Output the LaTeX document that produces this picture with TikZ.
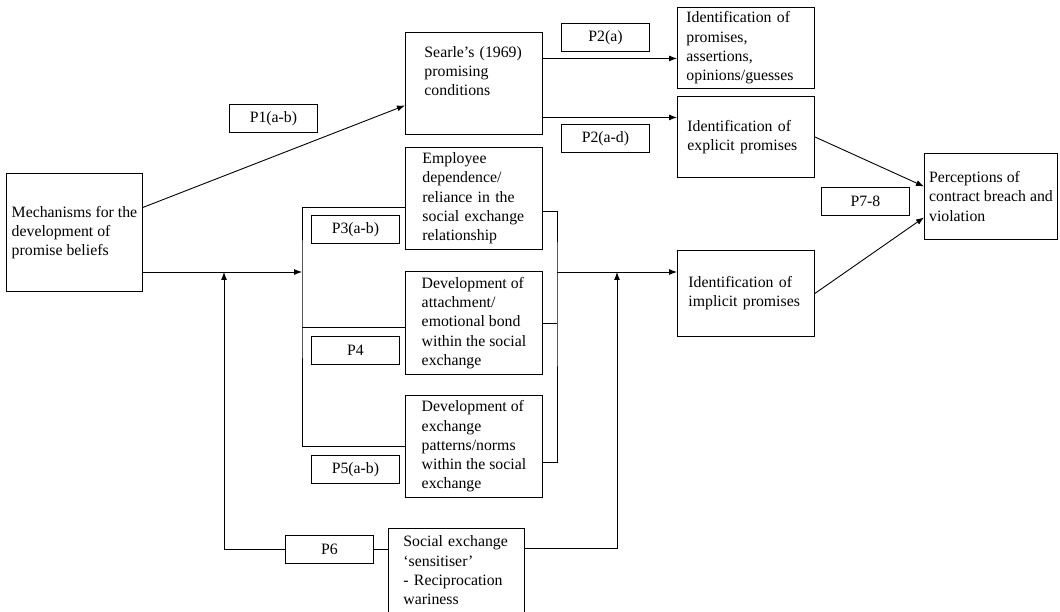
\documentclass[tikz,border=0pt]{standalone}
\usepackage{fontspec}
\setmainfont{Liberation Serif}
\usetikzlibrary{arrows.meta, calc}

\begin{document}
\begin{tikzpicture}[x=1pt, y=-1pt, line width=0.9pt,
    font=\fontsize{15.8pt}{19.3pt}\selectfont,
    pbox/.style={draw, anchor=north west, align=left, inner xsep=0pt, inner ysep=0pt},
    plabel/.style={draw, anchor=north west, minimum width=88pt, minimum height=28pt, inner sep=0pt},
    link/.style={arrows=-{Latex[length=8pt, width=6pt]}}]

  \useasboundingbox (0,0) rectangle (1060,612);

  % main boxes
  \node [pbox, minimum width=136pt, minimum height=118pt] (mech) at (6,173) {Mechanisms for the\\development of\\promise beliefs};
  \node [pbox, minimum width=137pt, minimum height=102pt, text width=99pt] (searle) at (405,32) {Searle’s (1969)\\promising\\conditions\\\strut};
  \node [pbox, minimum width=137pt, minimum height=102pt, text width=103pt] (employee) at (405,147) {Employee\\dependence/\\reliance in the\\social exchange\\relationship};
  \node [pbox, minimum width=137pt, minimum height=103pt] (attach) at (405,271) {Development of\\attachment/\\emotional bond\\within the social\\exchange};
  \node [pbox, minimum width=137pt, minimum height=102pt] (exch) at (405,395) {Development of\\exchange\\patterns/norms\\within the social\\exchange};
  \node [pbox, minimum width=136pt, minimum height=84pt, text width=106pt] (social) at (388,528) {Social exchange\\‘sensitiser’\\- Reciprocation\\wariness};

  \node [pbox, minimum width=137pt, minimum height=81pt, text width=119pt] (promises) at (677,7) {Identification of\\promises,\\assertions,\\opinions/guesses};
  \node [pbox, minimum width=137pt, minimum height=81pt, text width=117pt] (explicit) at (677,96) {Identification of\\explicit promises};
  \node [pbox, minimum width=137pt, minimum height=86pt, text width=115pt] (implicit) at (677,250) {Identification of\\implicit promises};
  \node [pbox, minimum width=133pt, minimum height=86pt] (percep) at (924,153) {Perceptions of\\contract breach and\\violation};

  % proposition labels
  \node [plabel] (p1) at (229,104) {P1(a-b)};
  \node [plabel] (p2a) at (561,23) {P2(a)};
  \node [plabel] (p2ad) at (561,124) {P2(a-d)};
  \node [plabel] (p3) at (311,215) {P3(a-b)};
  \node [plabel] (p4) at (311,336) {P4};
  \node [plabel] (p5) at (311,455) {P5(a-b)};
  \node [plabel] (p6) at (285,535) {P6};
  \node [plabel] (p78) at (821,187) {P7-8};

  % junction points
  \coordinate (lb) at (302,272);
  \coordinate (rb) at (557,272);
  \coordinate (lup) at (224,272);
  \coordinate (rup) at (617,272);

  \draw [link] ([yshift=25pt]mech.east) -- ([yshift=-22pt]searle.west);

  \coordinate (sa) at ([yshift=25pt]searle.east);
  \coordinate (sb) at ([yshift=-34pt]searle.east);
  \draw [link] (sa) -- (sa -| promises.west);
  \draw [link] (sb) -- (sb -| explicit.west);

  \draw [link] (mech.east |- lb) -- (lb);
  \draw ([yshift=-9pt]employee.west) -| (lb) |- (exch.west);
  \coordinate (aw) at ([yshift=-4.5pt]attach.west);
  \draw (aw) -- (aw -| lb);

  \draw ([yshift=-13pt]employee.east) -| (rb) |- ([yshift=-16pt]exch.east);
  \draw (attach.east) -- (attach.east -| rb);
  \draw [link] (rb) -- (rb -| implicit.west);

  \coordinate (sc) at ([yshift=22pt]social.east);
  \draw [link] (sc) -| (rup);
  \draw (p6.east) -- (p6.east -| social.west);
  \draw [link] (p6.west) -| (lup);

  \draw [link] (explicit.east) -- ([yshift=10pt]percep.west);
  \draw [link] (implicit.east) -- ([yshift=-21pt]percep.west);
\end{tikzpicture}
\end{document}
